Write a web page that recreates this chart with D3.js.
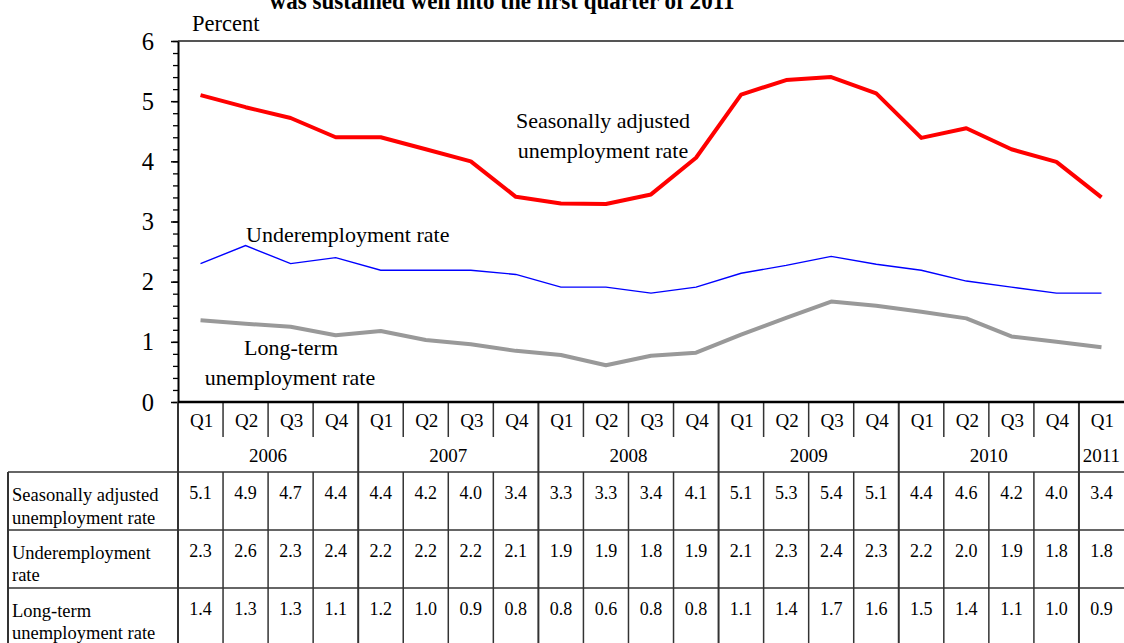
<!DOCTYPE html>
<html>
<head>
<meta charset="utf-8">
<script src="https://cdn.jsdelivr.net/npm/d3@7"></script>
<style>
  html, body { margin: 0; padding: 0; background: #fff; }
  svg { display: block; font-family: "Liberation Serif", "Times New Roman", serif; }
</style>
</head>
<body>
<svg id="chart" width="1124" height="643"></svg>
<script>
// ---------- data ----------
const quarters = ["Q1","Q2","Q3","Q4","Q1","Q2","Q3","Q4","Q1","Q2","Q3","Q4",
                  "Q1","Q2","Q3","Q4","Q1","Q2","Q3","Q4","Q1"];
const yearLabels = ["2006","2007","2008","2009","2010","2011"];
const yearSpans  = [4, 4, 4, 4, 4, 1];

// plotted (unrounded) values
const seasonal = [5.10,4.90,4.72,4.40, 4.40,4.20,4.00,3.41, 3.30,3.29,3.45,4.06,
                  5.11,5.35,5.40,5.13, 4.39,4.55,4.20,3.99, 3.40];
const underemp = [2.30,2.60,2.30,2.40, 2.19,2.19,2.19,2.12, 1.91,1.91,1.81,1.91,
                  2.14,2.27,2.42,2.29, 2.19,2.01,1.91,1.81, 1.81];
const longterm = [1.36,1.30,1.25,1.11, 1.18,1.03,0.96,0.85, 0.78,0.61,0.77,0.82,
                  1.12,1.40,1.67,1.60, 1.50,1.39,1.09,1.00, 0.91];

// table values as printed
const seasonalTable = ["5.1","4.9","4.7","4.4","4.4","4.2","4.0","3.4","3.3","3.3","3.4","4.1",
                       "5.1","5.3","5.4","5.1","4.4","4.6","4.2","4.0","3.4"];
const underempTable = ["2.3","2.6","2.3","2.4","2.2","2.2","2.2","2.1","1.9","1.9","1.8","1.9",
                       "2.1","2.3","2.4","2.3","2.2","2.0","1.9","1.8","1.8"];
const longtermTable = ["1.4","1.3","1.3","1.1","1.2","1.0","0.9","0.8","0.8","0.6","0.8","0.8",
                       "1.1","1.4","1.7","1.6","1.5","1.4","1.1","1.0","0.9"];
const rowHeaders = [["Seasonally adjusted","unemployment rate"],
                    ["Underemployment","rate"],
                    ["Long-term","unemployment rate"]];
const yTicks = [0,1,2,3,4,5,6];
const title = "was sustained well into the first quarter of 2011";

// ---------- layout ----------
const svg = d3.select("#chart");
const plotLeft = 178, plotRight = 1124, plotTop = 41, plotBottom = 402;
const x = d3.scaleBand().domain(d3.range(quarters.length)).range([plotLeft, plotRight]);
const y = d3.scaleLinear().domain([0, 6]).range([plotBottom, plotTop]);
const cx = i => x(i) + x.bandwidth() / 2;

// title (second line, top cut off as in the original)
svg.append("text").attr("x", 502).attr("y", 9).attr("text-anchor", "middle")
  .attr("font-size", 25).attr("font-weight", "bold")
  .attr("textLength", 465).attr("lengthAdjust", "spacingAndGlyphs").text(title);

// "Percent"
svg.append("text").attr("x", 192).attr("y", 31).attr("font-size", 22.5).text("Percent");

// top frame line
svg.append("line").attr("x1", plotLeft).attr("x2", plotRight)
  .attr("y1", plotTop).attr("y2", plotTop).attr("stroke", "#555").attr("stroke-width", 2);

// y axis (minor ticks)
const minor = d3.range(0, 6.0001, 0.2);
const axMinor = svg.append("g").attr("transform", `translate(${plotLeft},0)`)
  .call(d3.axisLeft(y).tickValues(minor).tickSize(5).tickFormat(""));
axMinor.select(".domain").remove();
axMinor.selectAll("line").attr("stroke", "#000").attr("stroke-width", 1.3);

const axMajor = svg.append("g").attr("transform", `translate(${plotLeft},0)`)
  .call(d3.axisLeft(y).tickValues(yTicks).tickSize(7).tickSizeOuter(0).tickPadding(17).tickFormat(d3.format("d")));
axMajor.select(".domain").attr("stroke", "#000").attr("stroke-width", 2);
axMajor.selectAll("line").attr("stroke", "#000").attr("stroke-width", 1.5);
axMajor.selectAll("text").attr("font-size", 24.5).attr("font-family", "Liberation Serif, Times New Roman, serif")
  .attr("fill", "#000").attr("dy", "0.33em");

// lines
const lineGen = d3.line().x((d, i) => cx(i)).y(d => y(d));
svg.append("path").datum(longterm).attr("d", lineGen).attr("fill", "none")
  .attr("stroke", "#999999").attr("stroke-width", 4).attr("stroke-linejoin", "round");
svg.append("path").datum(underemp).attr("d", lineGen).attr("fill", "none")
  .attr("stroke", "#0000ff").attr("stroke-width", 1.4);
svg.append("path").datum(seasonal).attr("d", lineGen).attr("fill", "none")
  .attr("stroke", "#ff0000").attr("stroke-width", 4).attr("stroke-linejoin", "round");

// line labels
const lbl = (t, xx, yy, anchor) => svg.append("text").attr("x", xx).attr("y", yy)
  .attr("font-size", 22).attr("text-anchor", anchor || "start").text(t);
lbl("Seasonally adjusted", 603, 128, "middle");
lbl("unemployment rate", 603, 158, "middle");
lbl("Underemployment rate", 246, 242);
lbl("Long-term", 291, 355, "middle");
lbl("unemployment rate", 290, 385, "middle");

// ---------- table ----------
const tbl = svg.append("g");
const lineColor = "#333";
const rowTops = [472, 530, 588];
const tableBottom = 643;
const qRowBottom = 437;

// year boundaries (column indices)
const yearStarts = [];
yearSpans.reduce((acc, s) => { yearStarts.push(acc); return acc + s; }, 0);
const isYearStart = i => yearStarts.includes(i);

// vertical separators
d3.range(quarters.length).forEach(i => {
  const xx = x(i);
  if (isYearStart(i)) {
    tbl.append("line").attr("x1", xx).attr("x2", xx).attr("y1", plotBottom).attr("y2", tableBottom)
      .attr("stroke", lineColor).attr("stroke-width", 2);
  } else {
    tbl.append("line").attr("x1", xx).attr("x2", xx).attr("y1", plotBottom).attr("y2", qRowBottom)
      .attr("stroke", lineColor).attr("stroke-width", 1.5);
    tbl.append("line").attr("x1", xx).attr("x2", xx).attr("y1", rowTops[0]).attr("y2", tableBottom)
      .attr("stroke", lineColor).attr("stroke-width", 1.5);
  }
});
// left border of row headers
tbl.append("line").attr("x1", 8).attr("x2", 8).attr("y1", rowTops[0]).attr("y2", tableBottom)
  .attr("stroke", lineColor).attr("stroke-width", 2);
// horizontal row lines
rowTops.forEach(r => tbl.append("line").attr("x1", 8).attr("x2", plotRight).attr("y1", r).attr("y2", r)
  .attr("stroke", lineColor).attr("stroke-width", 1.5));

// bottom x axis line
svg.append("line").attr("x1", plotLeft).attr("x2", plotRight).attr("y1", plotBottom).attr("y2", plotBottom)
  .attr("stroke", "#000").attr("stroke-width", 2.5);

// quarter labels
tbl.selectAll("text.q").data(quarters).enter().append("text").attr("class", "q")
  .attr("x", (d, i) => cx(i) + 1).attr("y", 427).attr("text-anchor", "middle")
  .attr("font-size", 19).text(d => d);

// year labels
yearLabels.forEach((yl, k) => {
  const s = yearStarts[k], e = s + yearSpans[k] - 1;
  const mid = (x(s) + x(e) + x.bandwidth()) / 2;
  tbl.append("text").attr("x", mid).attr("y", 462).attr("text-anchor", "middle")
    .attr("font-size", 19).text(yl);
});

// value rows
const tableRows = [seasonalTable, underempTable, longtermTable];
const valueBaselines = [499, 557, 615];
tableRows.forEach((row, r) => {
  tbl.selectAll(null).data(row).enter().append("text")
    .attr("x", (d, i) => cx(i)).attr("y", valueBaselines[r]).attr("text-anchor", "middle")
    .attr("font-size", 18).text(d => d);
});

// row headers
const headerBaselines = [[501, 524], [559, 581], [617, 639]];
rowHeaders.forEach((lines, r) => {
  lines.forEach((t, j) => {
    tbl.append("text").attr("x", 12).attr("y", headerBaselines[r][j])
      .attr("font-size", 18.5).text(t);
  });
});
</script>
</body>
</html>
